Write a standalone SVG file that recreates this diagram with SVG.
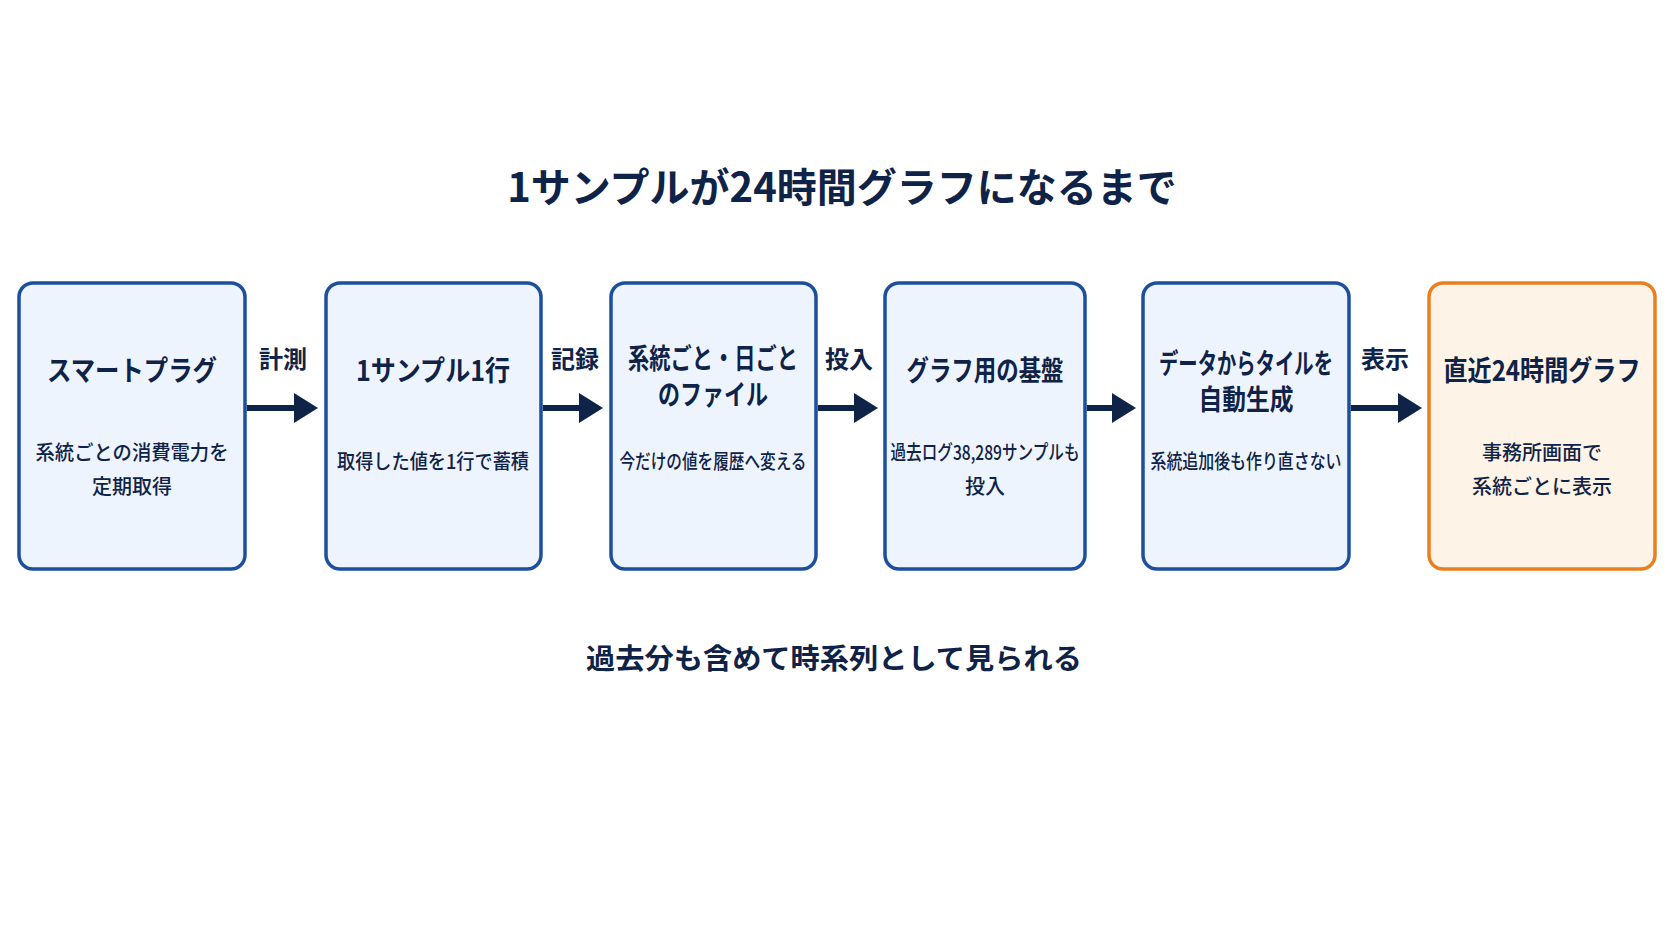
<svg xmlns="http://www.w3.org/2000/svg" width="1672" height="941" viewBox="0 0 1672 941">
<style>
text{font-family:"Noto Sans CJK JP","Noto Sans",sans-serif;fill:#0f2247;text-anchor:middle}
.t{font-size:28px;font-weight:700}
.s{font-size:20px;font-weight:500}
.l{font-size:24px;font-weight:700}
.b{fill:#eef4fd;stroke:#1d4f9c;stroke-width:3.5}
.o{fill:#fdf3e6;stroke:#e8801f;stroke-width:3.5}
.c line{stroke:#0f2247;stroke-width:6}
</style>
<defs><marker id="a" markerWidth="4" markerHeight="5" refX="1" refY="2.5" orient="auto" markerUnits="strokeWidth"><path d="M0,0L4,2.5L0,5z" fill="#0f2247"/></marker></defs>
<rect width="1672" height="941" fill="#fff"/>
<text x="842" y="202" style="font-size:40px;font-weight:700">1サンプルが24時間グラフになるまで</text>
<g id="n1"><rect class="b" x="19" y="283" width="226" height="286" rx="14"/>
<text class="t" x="132" y="381" textLength="170" lengthAdjust="spacingAndGlyphs">スマートプラグ</text>
<text class="s" x="132" y="460" textLength="193" lengthAdjust="spacingAndGlyphs">系統ごとの消費電力を</text>
<text class="s" x="132" y="494">定期取得</text></g>
<g id="n2"><rect class="b" x="326" y="283" width="215" height="286" rx="14"/>
<text class="t" x="433" y="381" textLength="154" lengthAdjust="spacingAndGlyphs">1サンプル1行</text>
<text class="s" x="433" y="469" textLength="192" lengthAdjust="spacingAndGlyphs">取得した値を1行で蓄積</text></g>
<g id="n3"><rect class="b" x="611" y="283" width="205" height="286" rx="14"/>
<text class="t" x="713" y="369" textLength="170" lengthAdjust="spacingAndGlyphs">系統ごと・日ごと</text>
<text class="t" x="713" y="405" textLength="110" lengthAdjust="spacingAndGlyphs">のファイル</text>
<text class="s" x="713" y="469" textLength="187" lengthAdjust="spacingAndGlyphs">今だけの値を履歴へ変える</text></g>
<g id="n4"><rect class="b" x="885" y="283" width="200" height="286" rx="14"/>
<text class="t" x="985" y="381" textLength="157" lengthAdjust="spacingAndGlyphs">グラフ用の基盤</text>
<text class="s" x="985" y="460" textLength="189" lengthAdjust="spacingAndGlyphs">過去ログ38,289サンプルも</text>
<text class="s" x="985" y="494">投入</text></g>
<g id="n5"><rect class="b" x="1143" y="283" width="206" height="286" rx="14"/>
<text class="t" x="1246" y="374" textLength="174" lengthAdjust="spacingAndGlyphs">データからタイルを</text>
<text class="t" x="1246" y="410" textLength="95" lengthAdjust="spacingAndGlyphs">自動生成</text>
<text class="s" x="1246" y="469" textLength="191" lengthAdjust="spacingAndGlyphs">系統追加後も作り直さない</text></g>
<g id="n6"><rect class="o" x="1429" y="283" width="226" height="286" rx="14"/>
<text class="t" x="1542" y="381" textLength="197" lengthAdjust="spacingAndGlyphs">直近24時間グラフ</text>
<text class="s" x="1542" y="460">事務所画面で</text>
<text class="s" x="1542" y="494">系統ごとに表示</text></g>
<g id="connectors" class="c">
<line x1="247" y1="408" x2="300" y2="408" marker-end="url(#a)"/>
<line x1="543" y1="408" x2="585" y2="408" marker-end="url(#a)"/>
<line x1="818" y1="408" x2="860" y2="408" marker-end="url(#a)"/>
<line x1="1087" y1="408" x2="1118" y2="408" marker-end="url(#a)"/>
<line x1="1351" y1="408" x2="1404" y2="408" marker-end="url(#a)"/>
<text class="l" x="283" y="368">計測</text>
<text class="l" x="575" y="368">記録</text>
<text class="l" x="849" y="368">投入</text>
<text class="l" x="1385" y="368">表示</text>
</g>
<text x="834" y="669" style="font-size:28px;font-weight:700" textLength="496" lengthAdjust="spacingAndGlyphs">過去分も含めて時系列として見られる</text>
</svg>
